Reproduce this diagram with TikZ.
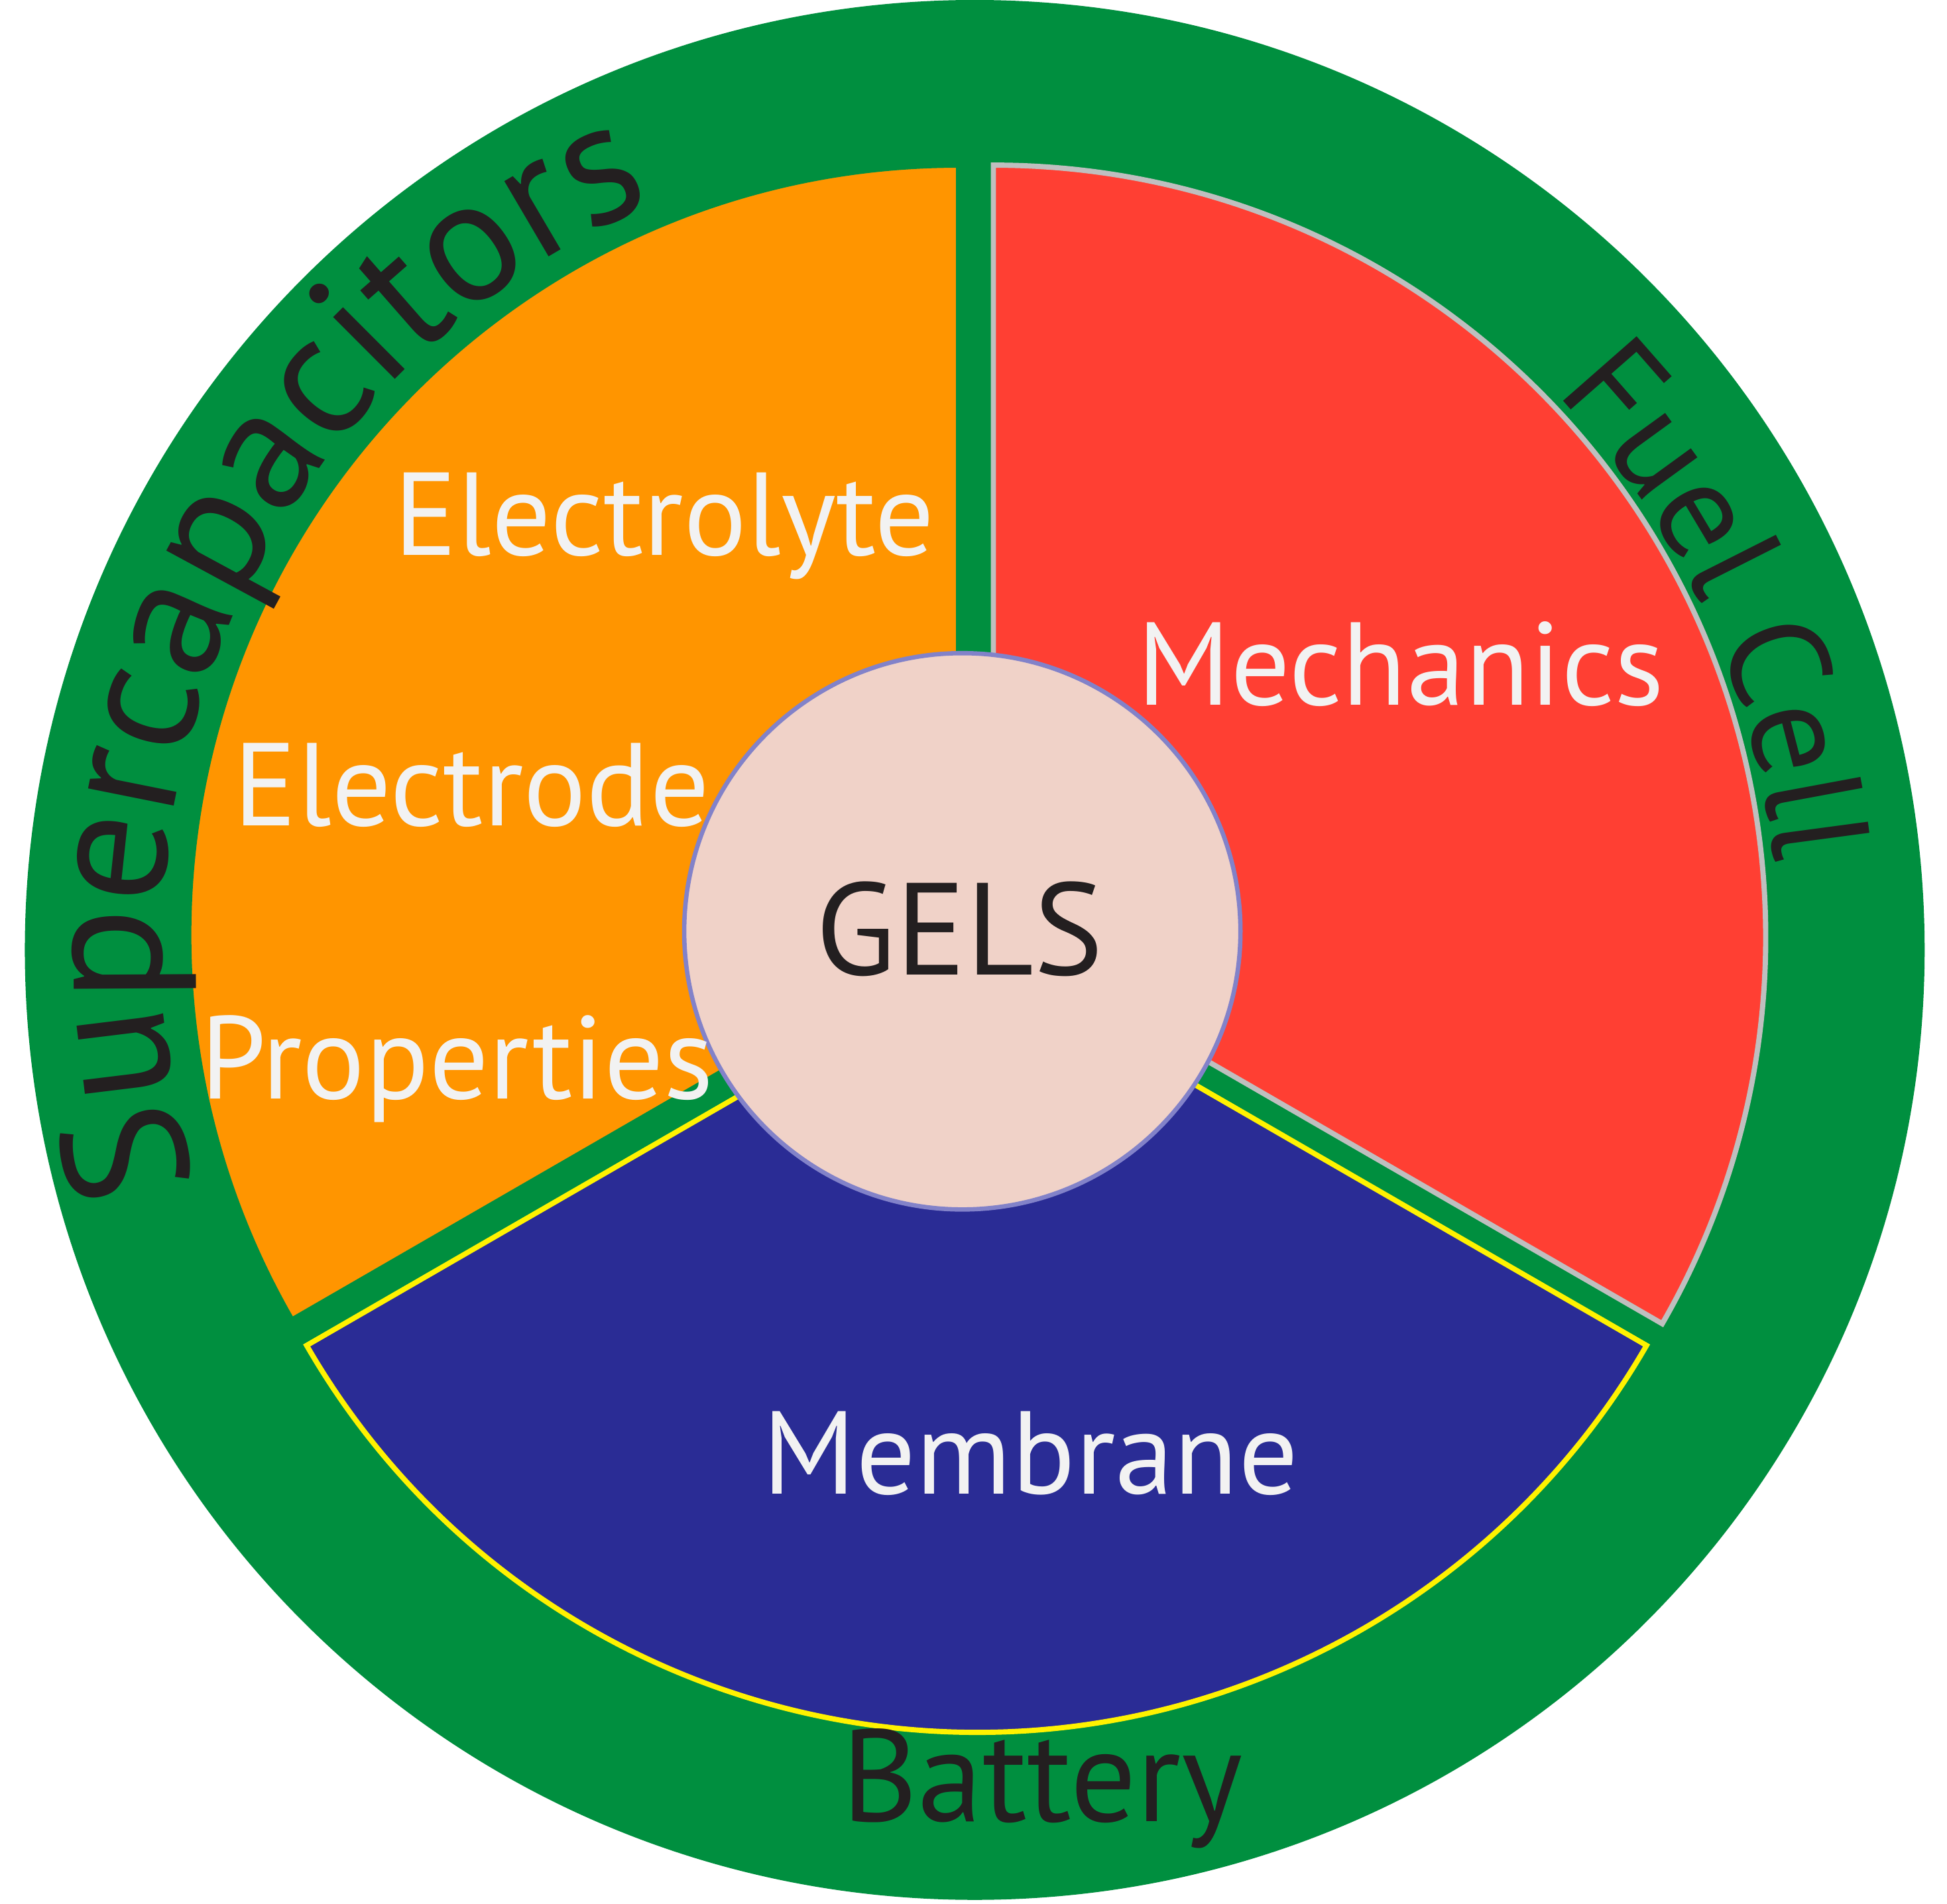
\documentclass[tikz,border=0pt]{standalone}
\usepackage{fontspec}
\setmainfont{PT Sans}
\usetikzlibrary{decorations.text}
\definecolor{gr}{HTML}{008F3F}
\definecolor{org}{HTML}{FF9500}
\definecolor{rd}{HTML}{FF3F33}
\definecolor{bl}{HTML}{2A2C95}
\definecolor{pk}{HTML}{F0D2C8}
\definecolor{ink}{HTML}{231F20}
\definecolor{wt}{HTML}{F2F2F2}
\begin{document}
\begin{tikzpicture}[x=0.01cm,y=0.01cm,
  lab/.style={anchor=base,text=wt,font=\fontsize{27}{27}\selectfont,inner sep=0pt},
  outer/.style={anchor=base,text=ink,font=\fontsize{30}{30}\selectfont,inner sep=0pt}]
\useasboundingbox (0,0) rectangle (1568,1533);
\fill[white] (0,0) rectangle (1568,1533);
\fill[gr] (785,768) circle[radius=765];
% sectors
\filldraw[fill=org,draw=gr,line width=1.2pt] (772,780) -- ++(90:620) arc[start angle=90,end angle=210,radius=620] -- cycle;
\filldraw[fill=rd,draw=gray!50,line width=1.2pt] (800,778) -- ++(90:622) arc[start angle=90,end angle=-30,radius=622] -- cycle;
\filldraw[fill=bl,draw=yellow,line width=1.2pt] (786.5,761) -- ++(210:623) arc[start angle=210,end angle=330,radius=623] -- cycle;
% center
\filldraw[fill=pk,draw=gray!60!blue!70,line width=1pt] (775,783) circle[radius=224];
% labels
\node[lab] (electrolyte) at (535,1086) {Electrolyte};
\node[lab] (electrode) at (380,868) {Electrode};
\node[lab] (properties) at (368,648) {Properties};
\node[lab] (mechanics) at (1128,965) {Mechanics};
\node[lab] (membrane) at (830,330) {Membrane};
\node[outer] (gels) at (773,748) {GELS};
\node[outer] (battery) at (839,66) {Battery};
% curved texts
\path[decorate,decoration={text along path,text align=center,
  text={|\fontsize{40}{40}\selectfont\color{ink}|Supercapacitors}}]
  (785,768) ++(207:655) arc[start angle=207,end angle=103,radius=655];
\path[decorate,decoration={text along path,text align=center,
  text={|\fontsize{32}{32}\selectfont\color{ink}|Fuel Cell}}]
  (785,768) ++(54:648) arc[start angle=54,end angle=-4,radius=648];
\end{tikzpicture}
\end{document}
